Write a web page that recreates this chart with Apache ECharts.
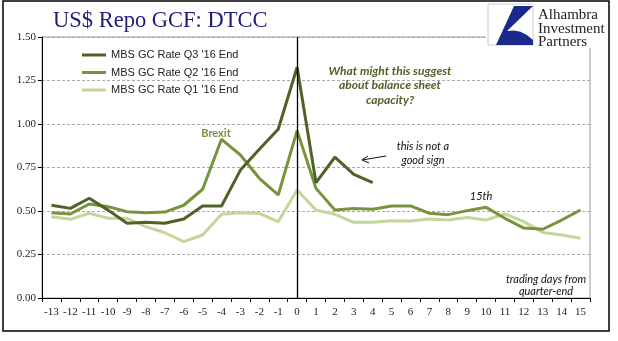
<!DOCTYPE html>
<html>
<head>
<meta charset="utf-8">
<script src="https://cdn.jsdelivr.net/npm/echarts@6/dist/echarts.min.js"></script>
<style>html,body{margin:0;padding:0;background:#fff}#c{width:618px;height:341px}</style>
</head>
<body>
<div id="c"></div>
<script>
var categories = ['-13','-12','-11','-10','-9','-8','-7','-6','-5','-4','-3','-2','-1','0','1','2','3','4','5','6','7','8','9','10','11','12','13','14','15'];
var q3 = [0.533,0.515,0.573,0.505,0.43,0.435,0.43,0.454,0.529,0.529,0.735,0.855,0.97,1.326,0.663,0.809,0.711,0.663];
var q2 = [0.49,0.483,0.54,0.525,0.496,0.49,0.494,0.533,0.625,0.912,0.822,0.688,0.592,0.962,0.63,0.506,0.515,0.51,0.529,0.529,0.487,0.479,0.502,0.521,0.458,0.402,0.395,0.448,0.506];
var q1 = [0.467,0.452,0.487,0.458,0.458,0.41,0.375,0.324,0.362,0.481,0.49,0.486,0.439,0.621,0.506,0.481,0.435,0.435,0.444,0.442,0.454,0.448,0.462,0.448,0.483,0.439,0.377,0.362,0.343];
var seriesNames = ["MBS GC Rate Q3 '16 End","MBS GC Rate Q2 '16 End","MBS GC Rate Q1 '16 End"];
var colors = ['#4f6228','#77933c','#c3d69b'];

var chart = echarts.init(document.getElementById('c'));
var serif = '"Liberation Serif","Times New Roman",serif';
var ital = 'Lato, "Open Sans", sans-serif';
chart.setOption({
  animation: false,
  title: {
    text: 'US$ Repo GCF: DTCC', left: 48, top: 5,
    textStyle: {fontFamily: serif, fontSize: 22.5, fontWeight: 'normal', color: '#1c1c7c'}
  },
  legend: {
    orient: 'vertical', left: 82, top: 48, itemWidth: 24, itemHeight: 3, itemGap: 3.5, padding: 0,
    icon: 'rect',
    textStyle: {fontFamily: '"Liberation Sans",Arial,sans-serif', fontSize: 11, color: '#222', lineHeight: 14},
    data: seriesNames
  },
  grid: {left: 42, right: 28, top: 37, bottom: 43, show: true, borderColor: '#999', borderWidth: 1},
  xAxis: {
    type: 'category', data: categories, boundaryGap: true,
    axisLine: {lineStyle: {color: '#000', width: 1}},
    axisTick: {show: true, interval: 0, length: 4, lineStyle: {color: '#000'}},
    axisLabel: {interval: 0, fontFamily: serif, fontSize: 11, color: '#222', margin: 9}
  },
  yAxis: {
    type: 'value', min: 0, max: 1.5, interval: 0.25,
    axisLine: {show: true, lineStyle: {color: '#000', width: 1}},
    axisTick: {show: true, length: 4, lineStyle: {color: '#000'}},
    axisLabel: {fontFamily: serif, fontSize: 11, color: '#222', margin: 6, formatter: function(v){return v.toFixed(2);}},
    splitLine: {lineStyle: {color: '#aaa', type: [3,2]}}
  },
  series: [
    {name: seriesNames[0], type: 'line', data: q3, symbol: 'none', z: 4, lineStyle: {width: 3, color: colors[0]}, itemStyle: {color: colors[0]},
     markLine: {silent: true, symbol: 'none', label: {show: false}, lineStyle: {color: '#000', type: 'solid', width: 1.3}, data: [{xAxis: '0'}]}},
    {name: seriesNames[1], type: 'line', data: q2, symbol: 'none', z: 3, lineStyle: {width: 3, color: colors[1]}, itemStyle: {color: colors[1]}},
    {name: seriesNames[2], type: 'line', data: q1, symbol: 'none', z: 2, lineStyle: {width: 3, color: colors[2]}, itemStyle: {color: colors[2]}}
  ],
  graphic: [
    {type: 'rect', shape: {x: 3, y: 1, width: 606, height: 330}, style: {fill: 'none', stroke: '#000', lineWidth: 1.5}, z: 100},
    {type: 'rect', shape: {x: 486, y: 2, width: 121, height: 46}, style: {fill: '#fff'}, z: 50},
    {type: 'rect', shape: {x: 488, y: 4, width: 45, height: 41}, style: {fill: '#fff', stroke: '#ccc', lineWidth: 1}, z: 51},
    {type: 'polygon', shape: {points: [[514,6],[533,6],[507,31],[513.9,30.4],[520.5,31.8],[526.9,34.9],[533,40],[533,45],[496,45]]}, style: {fill: '#1a2a8c'}, z: 52},
    {type: 'text', left: 538, top: 8, style: {text: 'Alhambra\nInvestment\nPartners', fontFamily: serif, fontSize: 15, lineHeight: 13.5, fill: '#222'}, z: 52},
    {type: 'text', x: 390, y: 85.5, style: {text: 'What might this suggest\nabout balance sheet\ncapacity?', fontFamily: ital, fontSize: 12, fontWeight: 'bold', fontStyle: 'italic', lineHeight: 14.5, fill: '#4f6228', align: 'center', verticalAlign: 'middle'}, z: 20},
    {type: 'text', x: 216, y: 133, style: {text: 'Brexit', fontFamily: ital, fontSize: 11, fontWeight: 'bold', fill: '#77933c', align: 'center', verticalAlign: 'middle'}, z: 20},
    {type: 'text', x: 423, y: 153.5, style: {text: 'this is not a\ngood sign', fontFamily: ital, fontSize: 11, fontStyle: 'italic', lineHeight: 13.5, fill: '#111', align: 'center', verticalAlign: 'middle'}, z: 20},
    {type: 'text', x: 481, y: 196, style: {text: '15th', fontFamily: ital, fontSize: 11, fontStyle: 'italic', fill: '#111', align: 'center', verticalAlign: 'middle'}, z: 20},
    {type: 'text', x: 546, y: 285.5, style: {text: 'trading days from\nquarter-end', fontFamily: ital, fontSize: 11, fontStyle: 'italic', lineHeight: 12.7, fill: '#111', align: 'center', verticalAlign: 'middle'}, z: 20},
    {type: 'polyline', shape: {points: [[386,156],[362,160]]}, style: {stroke: '#111', lineWidth: 1}, z: 20},
    {type: 'polyline', shape: {points: [[368,156],[362,160],[369,163]]}, style: {stroke: '#111', lineWidth: 1, fill: 'none'}, z: 20}
  ]
});
</script>
</body>
</html>
